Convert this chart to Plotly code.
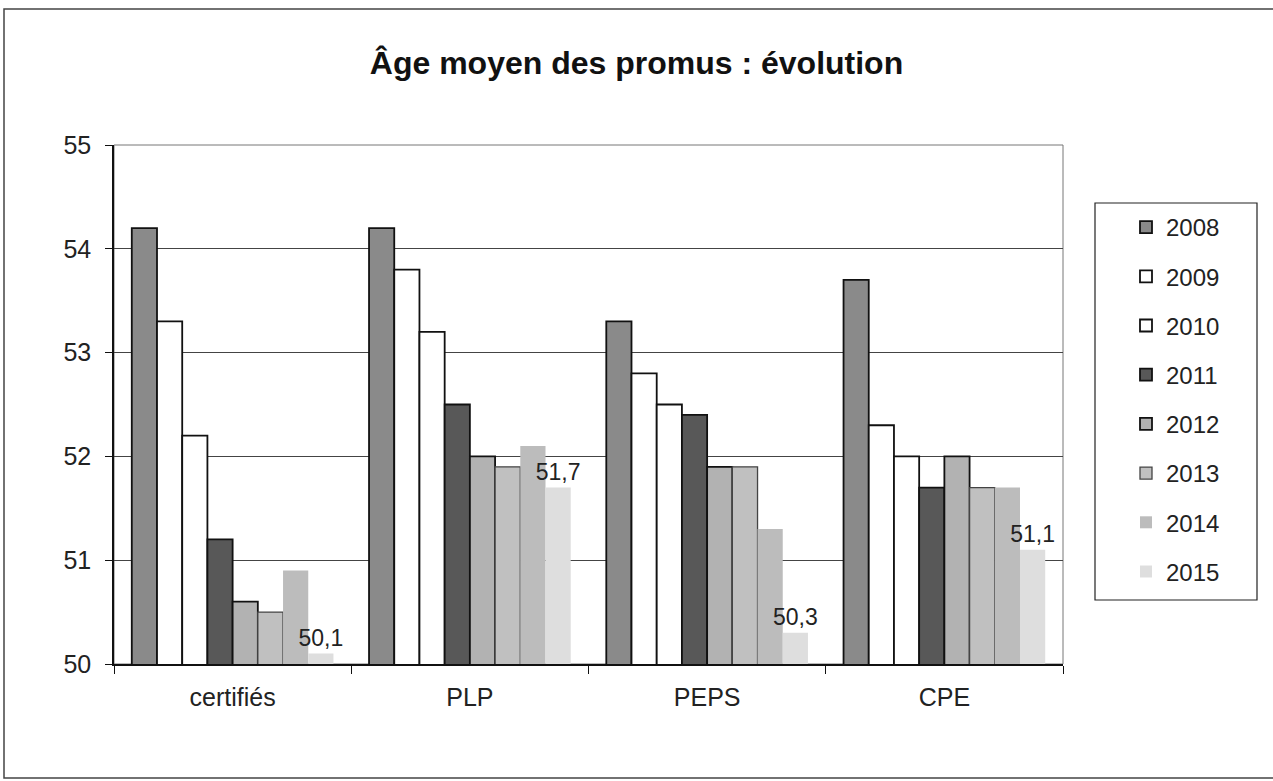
import plotly.graph_objects as go

categories = ["certifiés", "PLP", "PEPS", "CPE"]
years = ["2008", "2009", "2010", "2011", "2012", "2013", "2014", "2015"]
y2008 = [54.2, 54.2, 53.3, 53.7]
y2009 = [53.3, 53.8, 52.8, 52.3]
y2010 = [52.2, 53.2, 52.5, 52.0]
y2011 = [51.2, 52.5, 52.4, 51.7]
y2012 = [50.6, 52.0, 51.9, 52.0]
y2013 = [50.5, 51.9, 51.9, 51.7]
y2014 = [50.9, 52.1, 51.3, 51.7]
y2015 = [50.1, 51.7, 50.3, 51.1]
series = [y2008, y2009, y2010, y2011, y2012, y2013, y2014, y2015]

colors = ["#8a8a8a", "#ffffff", "#ffffff", "#585858", "#b2b2b2", "#c0c0c0", "#bcbcbc", "#dedede"]
outline = [1.8, 1.8, 1.8, 1.8, 1.8, 1.3, 0, 0]
outline_color = ["#111", "#111", "#111", "#111", "#111", "#444", "#bcbcbc", "#dedede"]

FONT = "Liberation Sans, Arial, sans-serif"

fig = go.Figure()
for i, (yr, vals) in enumerate(zip(years, series)):
    kw = {}
    if yr == "2015":
        kw = dict(texttemplate="%{y:.1f}", textposition="outside",
                  textfont=dict(size=23, color="#222", family=FONT),
                  cliponaxis=False, constraintext="none")
    fig.add_trace(go.Bar(
        x=categories, y=vals, name=yr, legendgroup=yr,
        marker=dict(color=colors[i], line=dict(color=outline_color[i], width=outline[i])),
        **kw))

W, H = 1273, 781
L, R, T, B = 114, 1063, 145, 664
pw, ph = R - L, B - T

def px(x):  # page x -> paper
    return (x - L) / pw

def py(y):  # page y -> paper
    return (B - y) / ph

fig.update_layout(
    width=W, height=H,
    margin=dict(l=L, r=W - R, t=T, b=H - B),
    paper_bgcolor="white", plot_bgcolor="white",
    separators=", ",
    barmode="group", bargap=0.15, bargroupgap=0,
    font=dict(family=FONT, color="#222"),
    title=dict(text="<b>Âge moyen des promus : évolution</b>", x=0.5, xanchor="center",
               y=1 - 63 / H, yanchor="middle", yref="container",
               font=dict(size=32, family=FONT, color="#111")),
    xaxis=dict(showline=True, linecolor="#111", linewidth=1.5, ticks="outside",
               tickson="boundaries", ticklen=8, tickcolor="#111", ticklabelstandoff=10,
               tickfont=dict(size=25, family=FONT, color="#222"), showgrid=False),
    yaxis=dict(range=[50, 55], dtick=1, showline=True, linecolor="#111", linewidth=1.5,
               ticks="outside", ticklen=7, tickcolor="#111", ticklabelstandoff=9,
               showgrid=True, gridcolor="#444", gridwidth=1,
               tickfont=dict(size=25, family=FONT, color="#222")),
    legend=dict(x=px(1126), xanchor="left", y=py(205), yanchor="top",
                font=dict(size=24, family=FONT, color="#222"),
                tracegroupgap=15, borderwidth=0, bgcolor="rgba(0,0,0,0)"),
    shapes=[
        dict(type="rect", xref="paper", yref="paper", x0=0, x1=1, y0=0, y1=1,
             line=dict(color="#777", width=1), layer="below"),
        dict(type="rect", xref="paper", yref="paper", x0=px(1095), x1=px(1257),
             y0=py(600), y1=py(203), line=dict(color="#222", width=1.2)),
        dict(type="rect", xref="paper", yref="paper", x0=px(4), x1=px(1290),
             y0=py(778), y1=py(9), line=dict(color="#444", width=1.5)),
    ],
)

fig.write_html("out.html", config={"displayModeBar": False},
               post_script="document.body.style.margin='0';")
